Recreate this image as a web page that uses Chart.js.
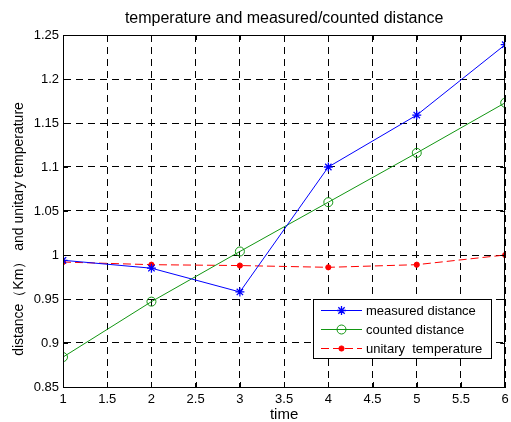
<!DOCTYPE html>
<html>
<head>
<meta charset="utf-8">
<script src="https://cdn.jsdelivr.net/npm/chart.js@4"></script>
<style>
html,body{margin:0;padding:0;background:#fff;}
#c{display:block;}
</style>
</head>
<body>
<canvas id="c" width="511" height="422"></canvas>
<script>
const chartTitle = 'temperature and measured/counted distance';
const xTitle = 'time';
const yTitle = 'distance（Km） and unitary temperature';
const timeValues = [1, 2, 3, 4, 5, 6];
const measuredDistance = [0.994, 0.985, 0.958, 1.100, 1.159, 1.239];
const countedDistance = [0.884, 0.947, 1.004, 1.060, 1.116, 1.173];
const unitaryTemperature = [0.992, 0.989, 0.988, 0.986, 0.989, 1.000];
const seriesNames = ['measured distance', 'counted distance', 'unitary  temperature'];
const xTicks = [1, 1.5, 2, 2.5, 3, 3.5, 4, 4.5, 5, 5.5, 6];
const yTicks = [0.85, 0.9, 0.95, 1, 1.05, 1.1, 1.15, 1.2, 1.25];

const FONT = 'Arial, "Liberation Sans", sans-serif';
const toPts = (ys) => ys.map((y, i) => ({x: timeValues[i], y: y}));

const decor = {
  id: 'decor',
  afterDatasetsDraw(chart) {
    const ctx = chart.ctx;
    const a = chart.chartArea;
    const xs = chart.scales.x, ys = chart.scales.y;
    ctx.save();
    // inner tick marks
    ctx.strokeStyle = '#000';
    ctx.lineWidth = 1;
    ctx.setLineDash([]);
    ctx.beginPath();
    xTicks.forEach(v => {
      const px = Math.round(xs.getPixelForValue(v)) + 0.5;
      ctx.moveTo(px, a.bottom); ctx.lineTo(px, a.bottom - 5);
      ctx.moveTo(px, a.top); ctx.lineTo(px, a.top + 5);
    });
    yTicks.forEach(v => {
      const py = Math.round(ys.getPixelForValue(v)) + 0.5;
      ctx.moveTo(a.left, py); ctx.lineTo(a.left + 5, py);
      ctx.moveTo(a.right, py); ctx.lineTo(a.right - 5, py);
    });
    ctx.stroke();
    // box
    ctx.strokeRect(Math.round(a.left) + 0.5, Math.round(a.top) + 0.5,
                   Math.round(a.right - a.left) - 1, Math.round(a.bottom - a.top));
    // legend
    const lx = 313.5, ly = 299.5, lw = 178, lh = 59;
    ctx.fillStyle = '#fff';
    ctx.fillRect(lx, ly, lw, lh);
    ctx.strokeStyle = '#000';
    ctx.strokeRect(lx, ly, lw, lh);
    ctx.font = '13px ' + FONT;
    ctx.textBaseline = 'middle';
    ctx.textAlign = 'left';
    chart.data.datasets.forEach((ds, i) => {
      const y = 310 + i * 19;
      ctx.strokeStyle = ds.borderColor;
      ctx.lineWidth = ds.borderWidth;
      ctx.setLineDash(ds.borderDash || []);
      ctx.beginPath();
      ctx.moveTo(321, y + 0.5); ctx.lineTo(362, y + 0.5);
      ctx.stroke();
      ctx.setLineDash([]);
      ctx.strokeStyle = ds.pointBorderColor;
      ctx.fillStyle = ds.pointBackgroundColor;
      ctx.lineWidth = ds.pointBorderWidth || 1;
      Chart.helpers.drawPoint(ctx, {
        pointStyle: ds.pointStyle, radius: ds.pointRadius,
        borderWidth: ds.pointBorderWidth || 1, rotation: 0
      }, 341.5, y + 0.5);
      ctx.fillStyle = '#000';
      ctx.fillText(ds.label, 366, y + 1);
    });
    // texts
    ctx.fillStyle = '#000';
    ctx.font = '16px ' + FONT;
    ctx.textAlign = 'center';
    ctx.textBaseline = 'middle';
    ctx.fillText(chartTitle, (a.left + a.right) / 2, 19);
    ctx.font = '15px ' + FONT;
    ctx.fillText(xTitle, (a.left + a.right) / 2, 415);
    ctx.font = '14px ' + FONT;
    ctx.translate(19, 229);
    ctx.rotate(-Math.PI / 2);
    ctx.fillText(yTitle, 0, 0);
    ctx.restore();
  }
};

new Chart(document.getElementById('c'), {
  type: 'line',
  data: {
    datasets: [
      {
        label: seriesNames[0], data: toPts(measuredDistance),
        borderColor: '#0000ff', backgroundColor: '#0000ff', borderWidth: 1,
        pointStyle: 'star', pointRadius: 4.5, pointBorderColor: '#0000ff', pointBackgroundColor: '#0000ff',
        pointBorderWidth: 1.3, tension: 0, fill: false
      },
      {
        label: seriesNames[1], data: toPts(countedDistance),
        borderColor: '#129612', backgroundColor: 'rgba(0,0,0,0)', borderWidth: 1,
        pointStyle: 'circle', pointRadius: 4.5, pointBorderColor: '#129612', pointBorderWidth: 1,
        pointBackgroundColor: 'rgba(0,0,0,0)', tension: 0, fill: false
      },
      {
        label: seriesNames[2], data: toPts(unitaryTemperature),
        borderColor: '#ff0000', backgroundColor: '#ff0000', borderWidth: 1, borderDash: [8, 4],
        pointStyle: 'circle', pointRadius: 2.6, pointBorderColor: '#ff0000', pointBackgroundColor: '#ff0000',
        pointBorderWidth: 1, tension: 0, fill: false
      }
    ]
  },
  options: {
    responsive: false,
    animation: false,
    layout: {padding: {top: 35, right: 1, left: 0, bottom: 0}},
    plugins: {legend: {display: false}, title: {display: false}, tooltip: {enabled: false}},
    scales: {
      x: {
        type: 'linear', min: 1, max: 6,
        afterBuildTicks: (s) => { s.ticks = xTicks.map(v => ({value: v})); },
        afterFit: (s) => { s.height = 35; s.paddingLeft = 0; s.paddingRight = 0; },
        grid: {color: '#000', lineWidth: 1, drawTicks: false},
        border: {display: true, color: '#000', dash: [7, 5], width: 1},
        ticks: {color: '#000', font: {family: FONT, size: 13}, padding: 5, maxRotation: 0,
                callback: (v) => String(v)}
      },
      y: {
        type: 'linear', min: 0.85, max: 1.25,
        afterBuildTicks: (s) => { s.ticks = yTicks.map(v => ({value: v})); },
        afterFit: (s) => { s.width = 63; s.paddingTop = 0; s.paddingBottom = 0; },
        grid: {color: '#000', lineWidth: 1, drawTicks: false},
        border: {display: true, color: '#000', dash: [7, 5], width: 1},
        ticks: {color: '#000', font: {family: FONT, size: 13}, padding: 4,
                callback: (v) => String(Number(v.toFixed(2)))}
      }
    }
  },
  plugins: [decor]
});
</script>
</body>
</html>
